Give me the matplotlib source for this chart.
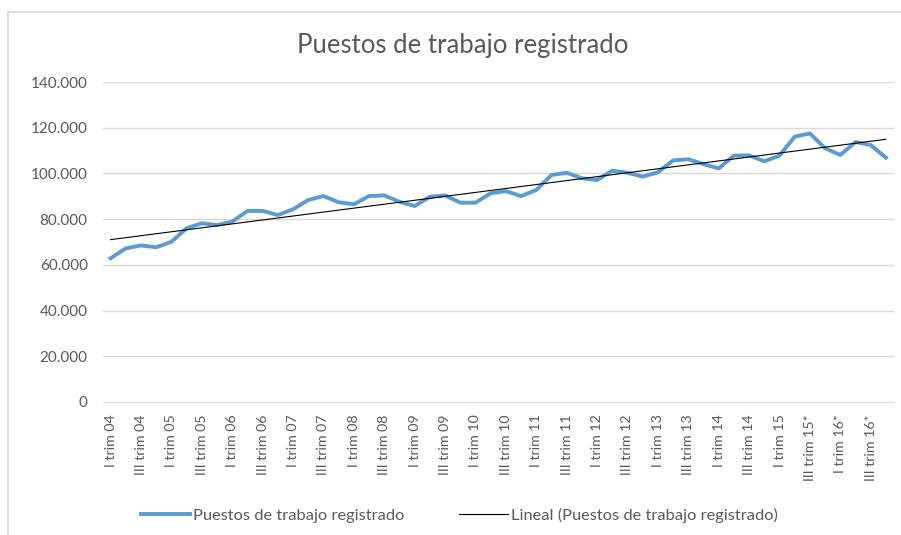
import matplotlib
matplotlib.use('Agg')
import matplotlib.pyplot as plt
import matplotlib.ticker as mticker
from matplotlib.patches import Rectangle
import numpy as np

plt.rcParams['font.family'] = ['Lato', 'DejaVu Sans']

# %% data
tick_labels = ['I trim 04', 'III trim 04', 'I trim 05', 'III trim 05', 'I trim 06',
               'III trim 06', 'I trim 07', 'III trim 07', 'I trim 08', 'III trim 08',
               'I trim 09', 'III trim 09', 'I trim 10', 'III trim 10', 'I trim 11',
               'III trim 11', 'I trim 12', 'III trim 12', 'I trim 13', 'III trim 13',
               'I trim 14', 'III trim 14', 'I trim 15', 'III trim 15*', 'I trim 16*',
               'III trim 16*']

puestos = [62900, 67200, 68500, 67700, 70100, 76000, 78200, 77400, 78900, 83600,
           83600, 81800, 84300, 88400, 90100, 87400, 86500, 90100, 90400, 87600,
           85750, 89800, 90400, 87200, 87200, 91300, 92300, 90100, 92750, 99300,
           100300, 97900, 97100, 101200, 100300, 98600, 100500, 105700, 106200, 104100,
           102200, 107800, 107900, 105300, 107800, 116100, 117500, 111000, 108100, 113750,
           112400, 106900]

gray = '#595959'
grid_c = '#d9d9d9'

# %% plot
fig = plt.figure(figsize=(9.01, 5.35), dpi=100)
ax = fig.add_axes([0.1143, 0.2486, 0.8774, 0.5981])

x = np.arange(len(puestos))
y = np.array(puestos)
coef = np.polyfit(x, y, 1)  # excel "Lineal" trendline

ax.plot(x, y, color='#5b9bd5', lw=2.8, label='Puestos de trabajo registrado',
        solid_joinstyle='round', zorder=3)
ax.plot(x, np.polyval(coef, x), color='black', lw=0.8,
        label='Lineal (Puestos de trabajo registrado)', zorder=4)

ax.set_xlim(-0.5, len(puestos) - 0.5)
ax.set_ylim(0, 140000)
ax.yaxis.set_major_locator(mticker.MultipleLocator(20000))
ax.yaxis.set_major_formatter(mticker.FuncFormatter(
    lambda v, p: '0' if v == 0 else '{:,.0f}'.format(v).replace(',', '.')))
ax.set_xticks(x[::2])
ax.set_xticklabels(tick_labels, rotation=90, fontsize=10.2, color=gray)
ax.tick_params(axis='x', length=0, pad=9)
ax.tick_params(axis='y', length=0, pad=11, labelsize=11, labelcolor=gray)
ax.grid(axis='y', color=grid_c, lw=1)
ax.set_axisbelow(True)
for s in ['top', 'right', 'left']:
    ax.spines[s].set_visible(False)
ax.spines['bottom'].set_color(grid_c)

fig.text(0.513, 0.915, 'Puestos de trabajo registrado', ha='center', va='center',
         fontsize=18.5, color=gray)

fig.legend(loc='center', bbox_to_anchor=(0.51, 0.037), ncol=2, frameon=False,
           fontsize=11.8, labelcolor=gray, handlelength=3.0, handletextpad=0.2,
           columnspacing=3.3)

# chart border (only top and left edges visible in the crop)
fig.patches.append(Rectangle((8 / 901, -0.1), 1.2, 1 - 12 / 535 + 0.1,
                             transform=fig.transFigure, fill=False,
                             edgecolor='#d9d9d9', lw=1.2))

fig.savefig('out.png', dpi=100)
